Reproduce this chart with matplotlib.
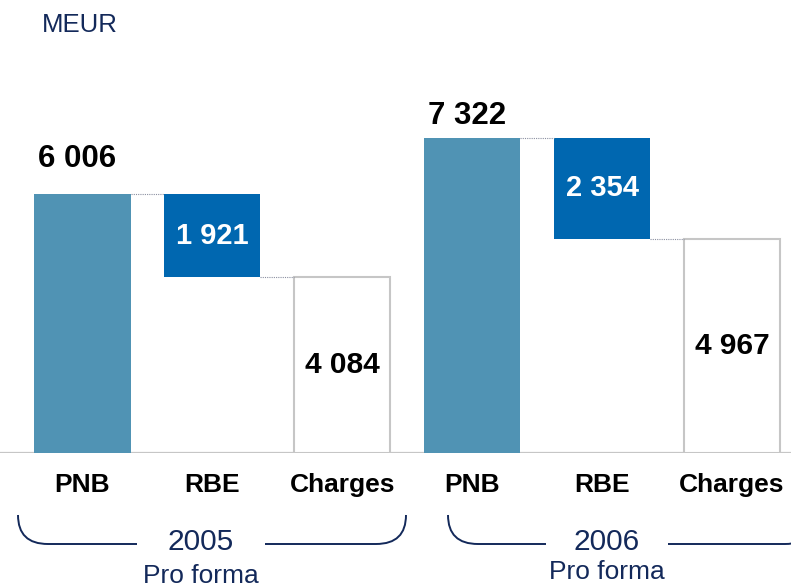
import matplotlib
matplotlib.use("Agg")
from matplotlib import pyplot as plt
from matplotlib.path import Path
from matplotlib.patches import PathPatch

# data (MEUR)
years = ["2005", "2006"]
sub_labels = ["Pro forma", "Pro forma"]
categories = ["PNB", "RBE", "Charges"]
pnb = [6006, 7322]
rbe = [1921, 2354]
charges = [4084, 4967]

teal = "#5093b4"
blue = "#0067b0"
navy = "#13295a"
grey = "#c6c6c6"

plt.rcParams["font.family"] = ["Liberation Sans", "DejaVu Sans"]

W, H = 791, 588
fig = plt.figure(figsize=(W / 100, H / 100), dpi=100)

#Axes: baseline sits at pixel row 453
base_px = 453
ax = fig.add_axes([0, (H - base_px) / H, 1, base_px / H])
ppu = 0.04306                  # pixels per MEUR
xpx = 129.9                    # pixels per bar slot
x0 = 82.5                      # pixel centre of first bar
ax.set_xlim((0 - x0) / xpx, (W - x0) / xpx)
ax.set_ylim(0, base_px / ppu)
ax.axis("off")

def py(px):
    #pixel row -> data y
    return (base_px - px) / ppu

bw = 0.74
ax.axhline(0, color=grey, lw=1.6, zorder=1)

label_gap_px = [35, 22]

for k, yr in enumerate(years):
    i = 3 * k
    # bars
    ax.bar(i, pnb[k], width=bw, color=teal, zorder=2)
    ax.bar(i + 1, rbe[k], bottom=charges[k], width=bw, color=blue, zorder=2)
    ax.bar(i + 2, charges[k], width=bw, color="white", edgecolor=grey,
           lw=1.5, zorder=2)

    # dotted connectors
    ax.plot([i + bw / 2, i + 1 - bw / 2], [pnb[k], pnb[k]], color="#8a8fa0",
            lw=0.8, ls=(0, (1, 1)), zorder=3)
    ax.plot([i + 1 + bw / 2, i + 2 - bw / 2], [charges[k], charges[k]],
            color="#8a8fa0", lw=0.8, ls=(0, (1, 1)), zorder=3)

    # value labels
    ax.text(i - 0.04, pnb[k] + label_gap_px[k] / ppu, f"{pnb[k]:,}".replace(",", " "),
            ha="center", va="center", fontsize=22.5, fontweight="bold", color="black")
    ax.text(i + 1, charges[k] + rbe[k] / 2, f"{rbe[k]:,}".replace(",", " "),
            ha="center", va="center", fontsize=21, fontweight="bold", color="white")
    ax.text(i + 2, charges[k] / 2, f"{charges[k]:,}".replace(",", " "),
            ha="center", va="center", fontsize=21.5, fontweight="bold", color="black")

    # category labels
    for j, c in enumerate(categories):
        ax.text(i + j, py(485), c, ha="center", va="center", fontsize=19,
                fontweight="bold", clip_on=False)

#Braces under each year
def brace(xl, xr, xc, gap, r=0.23, top=515, bot=544):
    yt, yb = py(top), py(bot)
    verts = [(xl, yt), (xl, yb), (xl + r, yb), (xc - gap, yb),
             (xc + gap, yb), (xr - r, yb), (xr, yb), (xr, yt)]
    codes = [Path.MOVETO, Path.CURVE3, Path.CURVE3, Path.LINETO,
             Path.MOVETO, Path.LINETO, Path.CURVE3, Path.CURVE3]
    ax.add_patch(PathPatch(Path(verts, codes), fill=False, edgecolor=navy,
                           lw=1.4, clip_on=False))

def px2x(px):
    return (px - x0) / xpx

brace_spans = [(18, 406, 201, 64), (448, 815, 607, 61)]
for k, (l, r, c, g) in enumerate(brace_spans):
    brace(px2x(l), px2x(r), px2x(c), g / xpx)
    ax.text(px2x(c), py(542), years[k], ha="center", va="center",
            fontsize=21.5, color=navy, clip_on=False)
    ax.text(px2x(c), py(576 - 4 * k), sub_labels[k], ha="center", va="center",
            fontsize=19, color=navy, clip_on=False)

fig.text(42 / W, 1 - 25 / H, "MEUR", ha="left", va="center", fontsize=18.5,
         color=navy)

fig.savefig("out.png", dpi=100)
